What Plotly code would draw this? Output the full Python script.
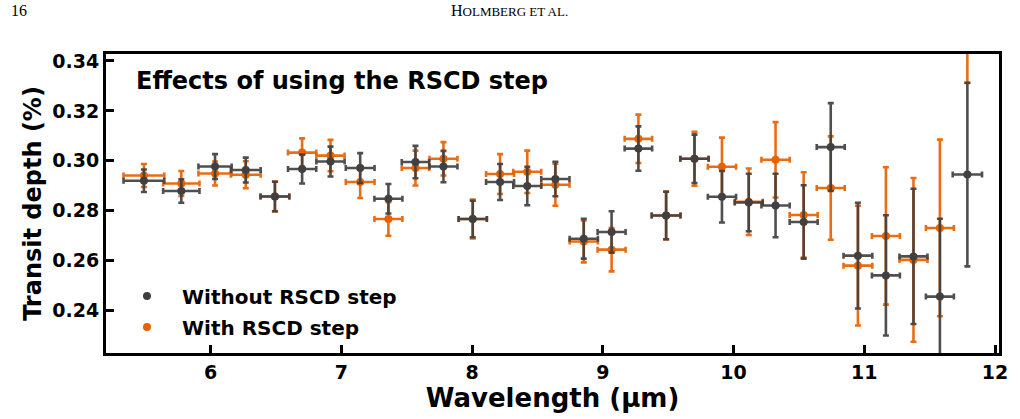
import plotly.graph_objects as go

# Wavelength bin centres (µm) and half-widths
wavelength = [5.490, 5.776, 6.034, 6.269, 6.492, 6.700, 6.917, 7.144, 7.360, 7.567,
              7.781, 8.005, 8.214, 8.422, 8.637, 8.854, 9.067, 9.272, 9.484, 9.701,
              9.911, 10.116, 10.321, 10.536, 10.743, 10.951, 11.165, 11.376, 11.578, 11.788]
wavelength_err = [0.156, 0.139, 0.127, 0.114, 0.110, 0.108, 0.108, 0.110, 0.107, 0.105,
                  0.107, 0.108, 0.107, 0.107, 0.108, 0.108, 0.107, 0.105, 0.110, 0.108,
                  0.108, 0.107, 0.108, 0.107, 0.107, 0.110, 0.107, 0.107, 0.107, 0.112]

# Transit depth (%) without the RSCD step
depth_without = [0.2920, 0.2879, 0.2977, 0.2963, 0.2857, 0.2967, 0.2997, 0.2971, 0.2848, 0.2995,
                 0.2977, 0.2767, 0.2915, 0.2899, 0.2927, 0.2688, 0.2715, 0.3049, 0.2781, 0.3008,
                 0.2856, 0.2833, 0.2821, 0.2755, 0.3055, 0.2620, 0.2541, 0.2617, 0.2456, 0.2945]
err_without = [0.0045, 0.0047, 0.0050, 0.0050, 0.0059, 0.0058, 0.0060, 0.0060, 0.0059, 0.0065,
               0.0063, 0.0073, 0.0072, 0.0077, 0.0069, 0.0080, 0.0083, 0.0089, 0.0095, 0.0097,
               0.0103, 0.0115, 0.0127, 0.0147, 0.0176, 0.0212, 0.0241, 0.0271, 0.0312, 0.0368]

# Transit depth (%) with the RSCD step
depth_with = [0.2941, 0.2909, 0.2949, 0.2944, 0.2857, 0.3033, 0.3021, 0.2915, 0.2767, 0.2971,
              0.3008, 0.2767, 0.2947, 0.2956, 0.2904, 0.2677, 0.2644, 0.3088, 0.2781, 0.3008,
              0.2976, 0.2836, 0.3004, 0.2783, 0.2891, 0.2580, 0.2699, 0.2603, 0.2731, 0.3730]
err_with = [0.0046, 0.0050, 0.0048, 0.0054, 0.0060, 0.0057, 0.0063, 0.0064, 0.0067, 0.0070,
            0.0067, 0.0078, 0.0080, 0.0085, 0.0084, 0.0084, 0.0087, 0.0097, 0.0096, 0.0108,
            0.0117, 0.0133, 0.0151, 0.0171, 0.0207, 0.0240, 0.0275, 0.0328, 0.0354, 0.0418]

x_ticks = [6, 7, 8, 9, 10, 11, 12]
y_ticks = [0.24, 0.26, 0.28, 0.30, 0.32, 0.34]

DARK = "rgba(64,64,64,0.92)"
ORANGE = "rgba(230,97,0,0.92)"
FONT = "DejaVu Sans"

fig = go.Figure()

fig.add_trace(go.Scatter(
    x=wavelength, y=depth_with, mode="markers", name="With RSCD step",
    legendgroup="b", legendrank=2,
    marker=dict(color="#E66100", size=8),
    error_y=dict(type="data", array=err_with, color=ORANGE, thickness=2.6, width=3),
    error_x=dict(type="data", array=wavelength_err, color=ORANGE, thickness=2.6, width=3),
))
fig.add_trace(go.Scatter(
    x=wavelength, y=depth_without, mode="markers", name="Without RSCD step",
    legendgroup="a", legendrank=1,
    marker=dict(color="#404040", size=8),
    error_y=dict(type="data", array=err_without, color=DARK, thickness=2.6, width=3),
    error_x=dict(type="data", array=wavelength_err, color=DARK, thickness=2.6, width=3),
))

axis_common = dict(
    showline=True, linecolor="black", linewidth=3, mirror=True,
    ticks="inside", ticklen=8, tickwidth=3, tickcolor="black",
    showgrid=False, zeroline=False,
    tickfont=dict(family=FONT, size=19, color="black", weight="bold"),
)

fig.update_xaxes(
    range=[5.2, 12.03], tickvals=x_ticks, ticktext=[str(v) for v in x_ticks],
    title=dict(text="Wavelength (µm)", font=dict(family=FONT, size=26, color="black", weight="bold"),
               standoff=4),
    **axis_common,
)
fig.update_yaxes(
    range=[0.223, 0.3428], tickvals=y_ticks, ticktext=[f"{v:.2f}" for v in y_ticks],
    title=dict(text="Transit depth (%)", font=dict(family=FONT, size=24, color="black", weight="bold"),
               standoff=4),
    **axis_common,
)

fig.add_annotation(
    text="<b>Effects of using the RSCD step</b>", xref="paper", yref="paper",
    x=0.031, y=0.9097, xanchor="left", yanchor="middle", showarrow=False,
    font=dict(family=FONT, size=24, color="black"),
)
fig.add_annotation(
    text="16", xref="paper", yref="paper", x=-0.109, y=1.144,
    xanchor="left", yanchor="middle", showarrow=False,
    font=dict(family="Liberation Serif", size=16, color="black"),
)
fig.add_annotation(
    text="H<span style='font-size:13px'>OLMBERG ET AL.</span>", xref="paper", yref="paper",
    x=0.452, y=1.144, xanchor="center", yanchor="middle", showarrow=False,
    font=dict(family="Liberation Serif", size=16, color="black"),
)

fig.update_layout(
    width=1020, height=419,
    margin=dict(l=106, r=13, t=54, b=66),
    paper_bgcolor="white", plot_bgcolor="white",
    showlegend=True,
    legend=dict(
        x=0.0067, y=0.022, xanchor="left", yanchor="bottom",
        traceorder="grouped", tracegroupgap=2, itemwidth=60,
        bgcolor="rgba(0,0,0,0)",
        font=dict(family=FONT, size=20, color="black", weight="bold"),
    ),
)

fig.write_html("out.html")
